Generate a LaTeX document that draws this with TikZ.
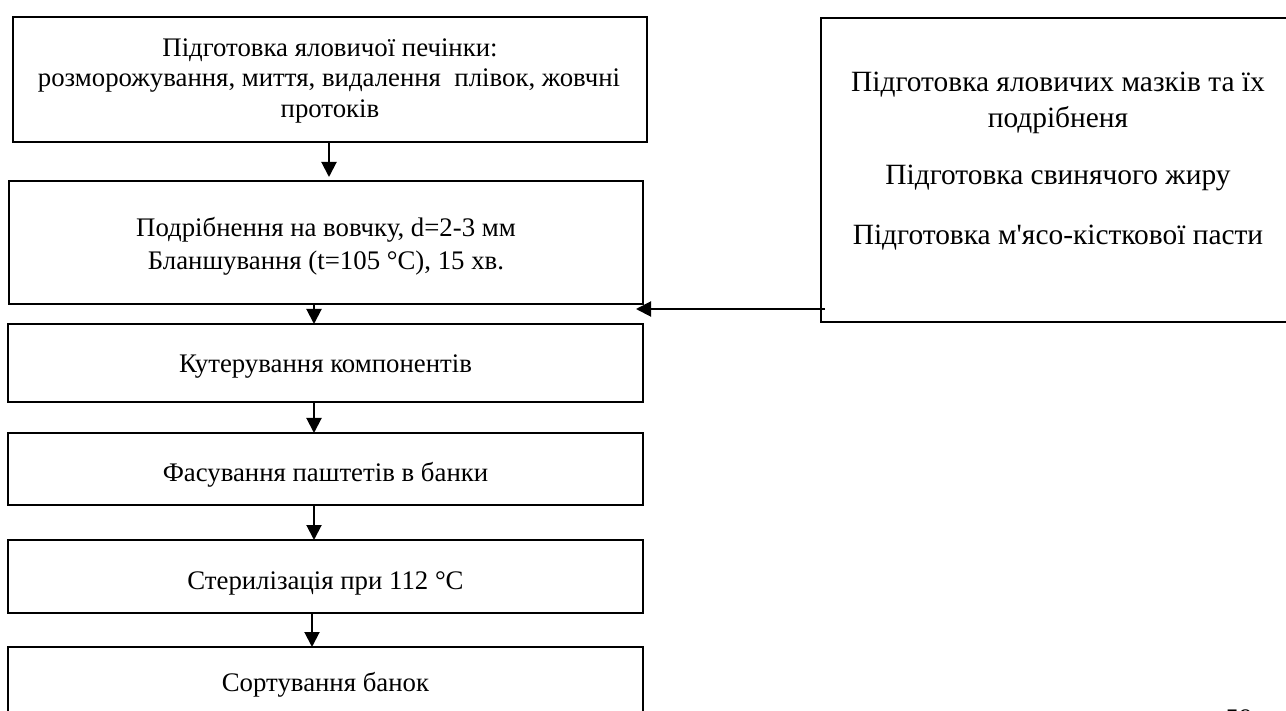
\documentclass[tikz,border=0pt]{standalone}
\usepackage{fontspec}
\setmainfont{Liberation Serif}
\newfontfamily\plainserif{Liberation Serif}
\usetikzlibrary{arrows.meta}
\begin{document}
\begin{tikzpicture}[x=1pt,y=-1pt,
  box/.style={draw, line width=2.7pt, rectangle, inner sep=0pt, outer sep=0pt},
  ltxt/.style={anchor=base, inner sep=0pt, font=\fontsize{26.8}{30}\selectfont},
  rtxt/.style={anchor=base, inner sep=0pt, font=\fontsize{29.4}{36}\selectfont},
  arr/.style={line width=2pt, -{Triangle[length=15pt,width=15pt]}}]
\useasboundingbox[fill=white] (0,0) rectangle (1286,711);
% boxes
\node[box, minimum width=634pt, minimum height=125pt] (b1) at (330,79.5) {};
\node[box, minimum width=634pt, minimum height=123pt] (b2) at (326,242.5) {};
\node[box, minimum width=635pt, minimum height=78pt] (b3) at (325.5,363) {};
\node[box, minimum width=635pt, minimum height=72pt] (b4) at (325.5,469) {};
\node[box, minimum width=635pt, minimum height=73pt] (b5) at (325.5,576.5) {};
\node[box, minimum width=635pt, minimum height=73pt] (b6) at (325.5,683.5) {};
\node[box, minimum width=474pt, minimum height=304pt] (rb) at (1058,170) {};
% texts
\node[ltxt] (t1a) at (330,57) {Підготовка яловичої печінки:};
\node[ltxt] (t1b) at (329,87) {розморожування, миття, видалення~ плівок, жовчні};
\node[ltxt] (t1c) at (330,118) {протоків};
\node[ltxt] (t2a) at (326,237) {Подрібнення на вовчку, d=2-3 мм};
\node[ltxt] (t2b) at (326,270) {Бланшування (t=105 °С), 15 хв.};
\node[ltxt] (t3) at (325.5,373) {Кутерування компонентів};
\node[ltxt] (t4) at (325.5,481) {Фасування паштетів в банки};
\node[ltxt] (t5) at (325.5,589) {Стерилізація при 112 °С};
\node[ltxt] (t6) at (325.5,691) {Сортування банок};
\node[rtxt] (r1) at (1058,92) {Підготовка яловичих мазків та їх};
\node[rtxt] (r2) at (1058,128) {подрібненя};
\node[rtxt] (r3) at (1058,185) {Підготовка свинячого жиру};
\node[rtxt] (r4) at (1058,245) {Підготовка м{\plainserif '}ясо-кісткової пасти};
\node[ltxt] (pg) at (1239,727) {59};
% arrow columns
\coordinate (c1) at (329,0);
\coordinate (c2) at (314,0);
\coordinate (c5) at (312,0);
\coordinate (ry) at (0,309);
\draw[arr, shorten >=4pt] (b1.south -| c1) -- (b2.north -| c1);
\draw[arr] (b2.south -| c2) -- (b3.north -| c2);
\draw[arr] (b3.south -| c2) -- (b4.north -| c2);
\draw[arr] (b4.south -| c2) -- (b5.north -| c2);
\draw[arr] (b5.south -| c5) -- (b6.north -| c5);
\draw[arr] ([xshift=4pt]rb.west |- ry) -- ([xshift=-7pt]b2.east |- ry);
\end{tikzpicture}
\end{document}
